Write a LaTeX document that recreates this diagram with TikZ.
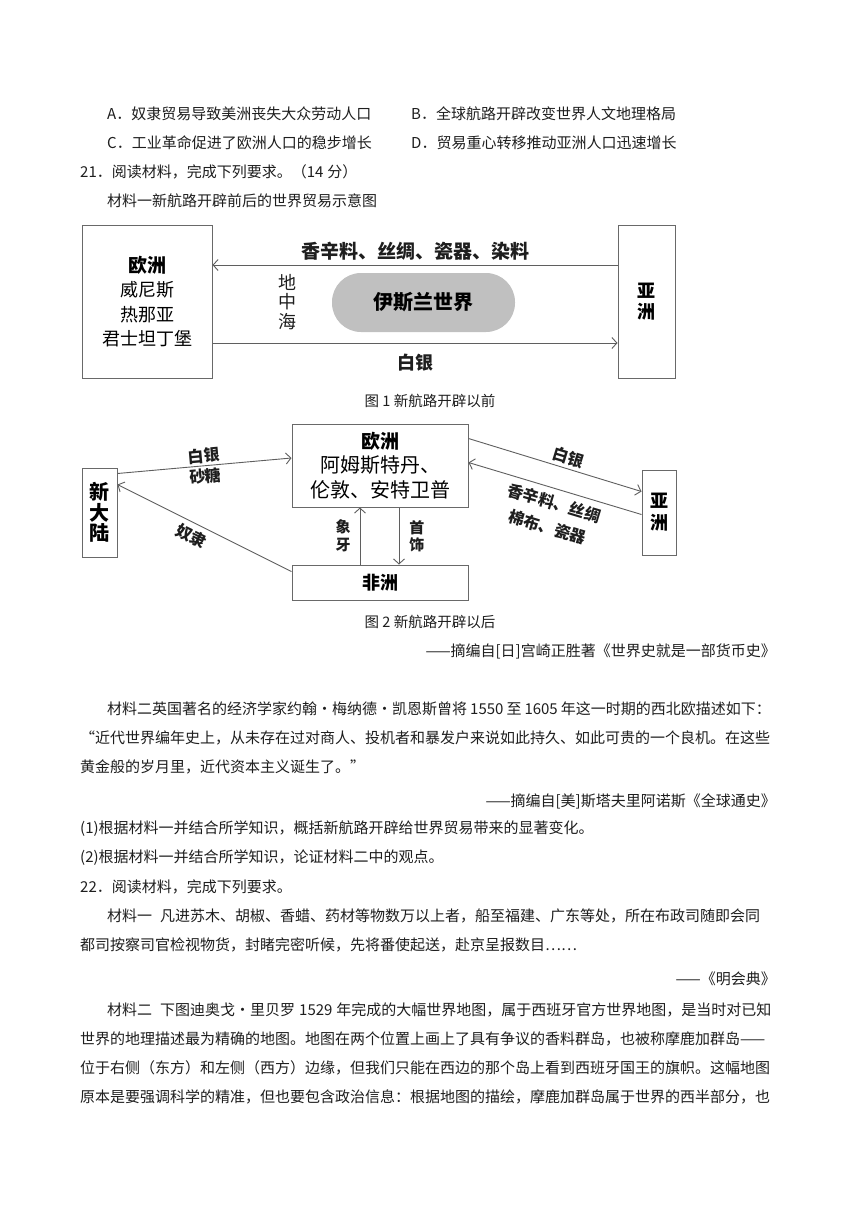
\documentclass[tikz,border=0pt]{standalone}
\usepackage{fontspec}
\setmainfont{Noto Sans CJK SC}
\usepackage{xcolor}
\usetikzlibrary{arrows.meta}
% stretchable glue between CJK characters, so that a line can be justified
\newcommand{\cjkglue}{\hskip 0pt plus 2pt minus 0.6pt\relax}
\newcommand{\noglue}{\XeTeXinterchartokenstate=0\relax}
\XeTeXinterchartokenstate=1
\XeTeXinterchartoks 1 1 = {\cjkglue}
\XeTeXinterchartoks 1 2 = {\cjkglue}
\XeTeXinterchartoks 1 3 = {\cjkglue}
\XeTeXinterchartoks 2 1 = {\cjkglue}
\XeTeXinterchartoks 3 1 = {\cjkglue}
\XeTeXinterchartoks 3 2 = {\cjkglue}
\XeTeXinterchartoks 3 3 = {\cjkglue}
\XeTeXinterchartoks 0 1 = {\cjkglue}
\XeTeXinterchartoks 1 0 = {\cjkglue}
\XeTeXinterchartoks 3 0 = {\cjkglue}
\XeTeXinterchartoks 0 3 = {\cjkglue}
\definecolor{ink}{RGB}{30,30,30}
\definecolor{linegray}{RGB}{95,95,95}
\definecolor{boxgray}{RGB}{105,105,105}
\definecolor{islamgray}{RGB}{192,192,192}
% one line of body text, stretched to a given width
\newcommand{\jline}[4]{\node[textline] (#1) at (#2) {\makebox[#3][s]{#4}};}

\begin{document}
\begin{tikzpicture}[x=1pt, y=-1pt,
  textline/.style={anchor=west, inner sep=0pt, text=ink, font=\fontsize{15}{17}\selectfont},
  box/.style={draw=boxgray, line width=1pt, inner sep=0pt, align=center, text=black},
  flow/.style={draw=linegray, line width=0.9pt, -{Straight Barb[length=5pt,width=11pt]}},
  lbl/.style={inner sep=2pt, text=ink, font=\noglue\bfseries\fontsize{16}{18}\selectfont},
  caption/.style={inner sep=0pt, text=ink, font=\fontsize{14.5}{17}\selectfont}]
\fill[white] (0,0) rectangle (860,1216);
\useasboundingbox (0,0) rectangle (860,1216);

% answer choices and question 21
\jline{la}{107,114}{266pt}{A．奴隶贸易导致美洲丧失大众劳动人口}
\jline{lb}{411,114}{268pt}{B．全球航路开辟改变世界人文地理格局}
\jline{lc}{107,143}{266pt}{C．工业革命促进了欧洲人口的稳步增长}
\jline{ld}{411,143}{268pt}{D．贸易重心转移推动亚洲人口迅速增长}
\jline{q21}{80,172}{261pt}{21．阅读材料，完成下列要求。（14\hspace{4pt}分）}
\jline{m1}{107,201}{275pt}{材料一新航路开辟前后的世界贸易示意图}

% figure 1: before the new sea routes
\node[box, minimum width=130pt, minimum height=153pt, font=\fontsize{18}{24.5}\selectfont]
  (eur1) at (147,301.5) {{\bfseries\fontsize{19}{24.5}\selectfont 欧洲}\\威尼斯\\热那亚\\君士坦丁堡};
\node[box, minimum width=57pt, minimum height=153pt, font=\bfseries\fontsize{18}{21}\selectfont]
  (asia1) at (646.5,301.5) {亚\\洲};
\node[fill=islamgray, rounded corners=29pt, minimum width=183pt, minimum height=59pt,
  font=\bfseries\fontsize{20}{22}\selectfont] (islam) at (423.5,302.5) {伊斯兰世界};
\node[align=center, text=ink, font=\fontsize{18}{19.5}\selectfont] (sea) at (287,302) {地\\中\\海};
\draw[flow] ([yshift=36.5pt]asia1.west) -- ([yshift=36.5pt]eur1.east)
  node[midway, above=2pt, lbl, font=\noglue\bfseries\fontsize{19}{20}\selectfont]{香辛料、丝绸、瓷器、染料};
\draw[flow] ([yshift=-41.5pt]eur1.east) -- ([yshift=-41.5pt]asia1.west)
  node[midway, below=9pt, lbl, font=\noglue\bfseries\fontsize{18}{20}\selectfont]{白银};
\node[caption] (cap1) at (430,401) {图 1 新航路开辟以前};

% figure 2: after the new sea routes
\node[box, minimum width=176pt, minimum height=83pt, font=\fontsize{20}{24.5}\selectfont]
  (eur2) at (380,465.5) {{\bfseries\fontsize{19}{24.5}\selectfont 欧洲}\\阿姆斯特丹、\\伦敦、安特卫普};
\node[box, minimum width=176pt, minimum height=35pt, font=\bfseries\fontsize{18}{20}\selectfont]
  (afr) at (380,582.5) {非洲};
\node[box, minimum width=35pt, minimum height=89pt, font=\bfseries\fontsize{20}{20.5}\selectfont]
  (nw) at (99.5,512.5) {新\\大\\陆};
\node[box, minimum width=34pt, minimum height=85pt, font=\bfseries\fontsize{18}{22}\selectfont]
  (asia2) at (659,512.5) {亚\\洲};
\draw[flow] ([yshift=-6pt]nw.north east) -- ([yshift=7.5pt]eur2.west)
  node[midway, sloped, above, lbl]{白银}
  node[midway, sloped, below, lbl]{砂糖};
\draw[flow] ([yshift=-7pt]afr.north west) -- ([yshift=-17pt]nw.north east)
  node[pos=0.54, sloped, below=3pt, lbl]{奴隶};
\draw[flow] ([xshift=-20pt]afr.north) -- ([xshift=-20pt]eur2.south)
  node[midway, left=7pt, lbl, align=center, font=\noglue\bfseries\fontsize{15}{18}\selectfont]{象\\牙};
\draw[flow] ([xshift=19pt]eur2.south) -- ([xshift=19pt]afr.north)
  node[midway, right=8pt, lbl, align=center, font=\noglue\bfseries\fontsize{15}{17}\selectfont]{首\\饰};
\draw[flow] ([yshift=-15pt]eur2.north east) -- ([yshift=-22pt]asia2.north west)
  node[pos=0.56, sloped, above=1pt, lbl]{白银};
\draw[flow] ([yshift=-45pt]asia2.north west) -- ([yshift=-39pt]eur2.north east)
  node[pos=0.48, sloped, below=4pt, lbl, align=center, font=\noglue\bfseries\fontsize{16}{25}\selectfont]{香辛料、丝绸\\棉布、瓷器};
\node[caption] (cap2) at (430,622) {图 2 新航路开辟以后};
\node[textline, anchor=east] (src1) at (776,651) {——摘编自[日]宫崎正胜著《世界史就是一部货币史》};

% material two and the questions
\jline{m2}{107,709}{674pt}{材料二英国著名的经济学家约翰·梅纳德·凯恩斯曾将\hspace{3pt}1550\hspace{3pt}至\hspace{3pt}1605\hspace{3pt}年这一时期的西北欧描述如下：}
\jline{m2b}{80,738}{696pt}{“近代世界编年史上，从未存在过对商人、投机者和暴发户来说如此持久、如此可贵的一个良机。在这些}
\node[textline] (m2c) at (80,767) {黄金般的岁月里，近代资本主义诞生了。”};
\node[textline, anchor=east] (src2) at (776,801) {——摘编自[美]斯塔夫里阿诺斯《全球通史》};
\jline{q1}{80,829}{516pt}{(1)根据材料一并结合所学知识，概括新航路开辟给世界贸易带来的显著变化。}
\jline{q2}{80,858}{365pt}{(2)根据材料一并结合所学知识，论证材料二中的观点。}
\node[textline] (q22) at (80,887) {22．阅读材料，完成下列要求。};
\jline{n1}{107,916}{669pt}{材料一\hspace{8pt}凡进苏木、胡椒、香蜡、药材等物数万以上者，船至福建、广东等处，所在布政司随即会同}
\jline{n1b}{80,945}{547pt}{都司按察司官检视物货，封睹完密听候，先将番使起送，赴京呈报数目……}
\node[textline, anchor=east] (src3) at (776,979) {——《明会典》};
\jline{n2}{107,1010}{669pt}{材料二\hspace{8pt}下图迪奥戈·里贝罗\hspace{4pt}1529\hspace{4pt}年完成的大幅世界地图，属于西班牙官方世界地图，是当时对已知}
\jline{n2b}{80,1039}{696pt}{世界的地理描述最为精确的地图。地图在两个位置上画上了具有争议的香料群岛，也被称摩鹿加群岛——}
\jline{n2c}{80,1068}{696pt}{位于右侧（东方）和左侧（西方）边缘，但我们只能在西边的那个岛上看到西班牙国王的旗帜。这幅地图}
\jline{n2d}{80,1097}{696pt}{原本是要强调科学的精准，但也要包含政治信息：根据地图的描绘，摩鹿加群岛属于世界的西半部分，也}
\end{tikzpicture}
\end{document}
